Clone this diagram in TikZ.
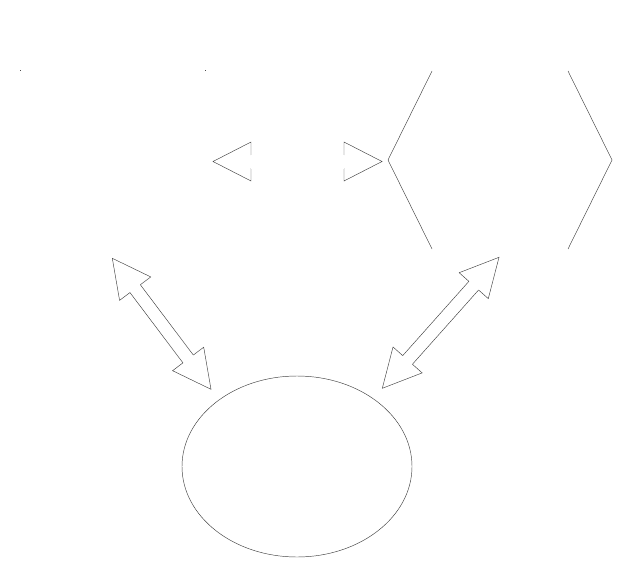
\documentclass[tikz,border=0pt]{standalone}
\usetikzlibrary{calc,shapes.geometric}
\tikzset{
  ln/.style={draw=black!75, line width=0.45pt, line join=miter},
  hide/.style={draw=white, line width=0.45pt},
  hubshape/.style={ellipse, ln, minimum width=230pt, minimum height=181pt, inner sep=0pt},
  boxshape/.style={rectangle, draw=none, minimum width=184pt, minimum height=178pt, inner sep=0pt},
  cornerdot/.style={fill=black!70, minimum size=0.9pt, inner sep=0pt, rectangle}
}
% block double arrow between two tips: #1, #2 tips, #3 style of the shaft edges
\newcommand\blockdbl[3]{%
  \coordinate (ha) at ($(#1)!38pt!(#2)$);
  \coordinate (hb) at ($(#2)!38pt!(#1)$);
  \draw[ln] ($(ha)!6.5pt!90:(#2)$) -- ($(ha)!19.5pt!90:(#2)$) -- (#1)
            -- ($(ha)!19.5pt!-90:(#2)$) -- ($(ha)!6.5pt!-90:(#2)$);
  \draw[ln] ($(hb)!6.5pt!90:(#1)$) -- ($(hb)!19.5pt!90:(#1)$) -- (#2)
            -- ($(hb)!19.5pt!-90:(#1)$) -- ($(hb)!6.5pt!-90:(#1)$);
  \draw[#3] ($(ha)!6.5pt!90:(#2)$) -- ($(hb)!6.5pt!-90:(#1)$);
  \draw[#3] ($(ha)!6.5pt!-90:(#2)$) -- ($(hb)!6.5pt!90:(#1)$);
}
\begin{document}
\begin{tikzpicture}[x=1pt,y=-1pt]
\useasboundingbox (0,0) rectangle (617,567);

% left box (its outline is not visible, only its top corners)
\node[boxshape] (box) at (113,160) {};
\node[cornerdot] (dl) at (box.north west) {};
\node[cornerdot] (dr) at (box.north east) {};

% hexagon: only slanted sides visible
\coordinate (hx1) at (432,71);
\coordinate (hx2) at (568,71);
\coordinate (hx3) at (612,160);
\coordinate (hx4) at (568,249);
\coordinate (hx5) at (432,249);
\coordinate (hx6) at (388,160);
\draw[ln] (hx1) -- (hx6) -- (hx5);
\draw[ln] (hx2) -- (hx3) -- (hx4);

% ellipse
\node[hubshape] (hub) at (297,466.5) {};

% arrow tips
\coordinate (t1) at (112.3,258.3);
\coordinate (t2) at (211,389.3);
\coordinate (t3) at (499,257.3);
\coordinate (t4) at (382.3,388.3);
\coordinate (t5) at (213,161.5);
\coordinate (t6) at (382,161.5);

\blockdbl{t1}{t2}{ln}
\blockdbl{t3}{t4}{ln}
\blockdbl{t5}{t6}{hide}
\end{tikzpicture}
\end{document}
